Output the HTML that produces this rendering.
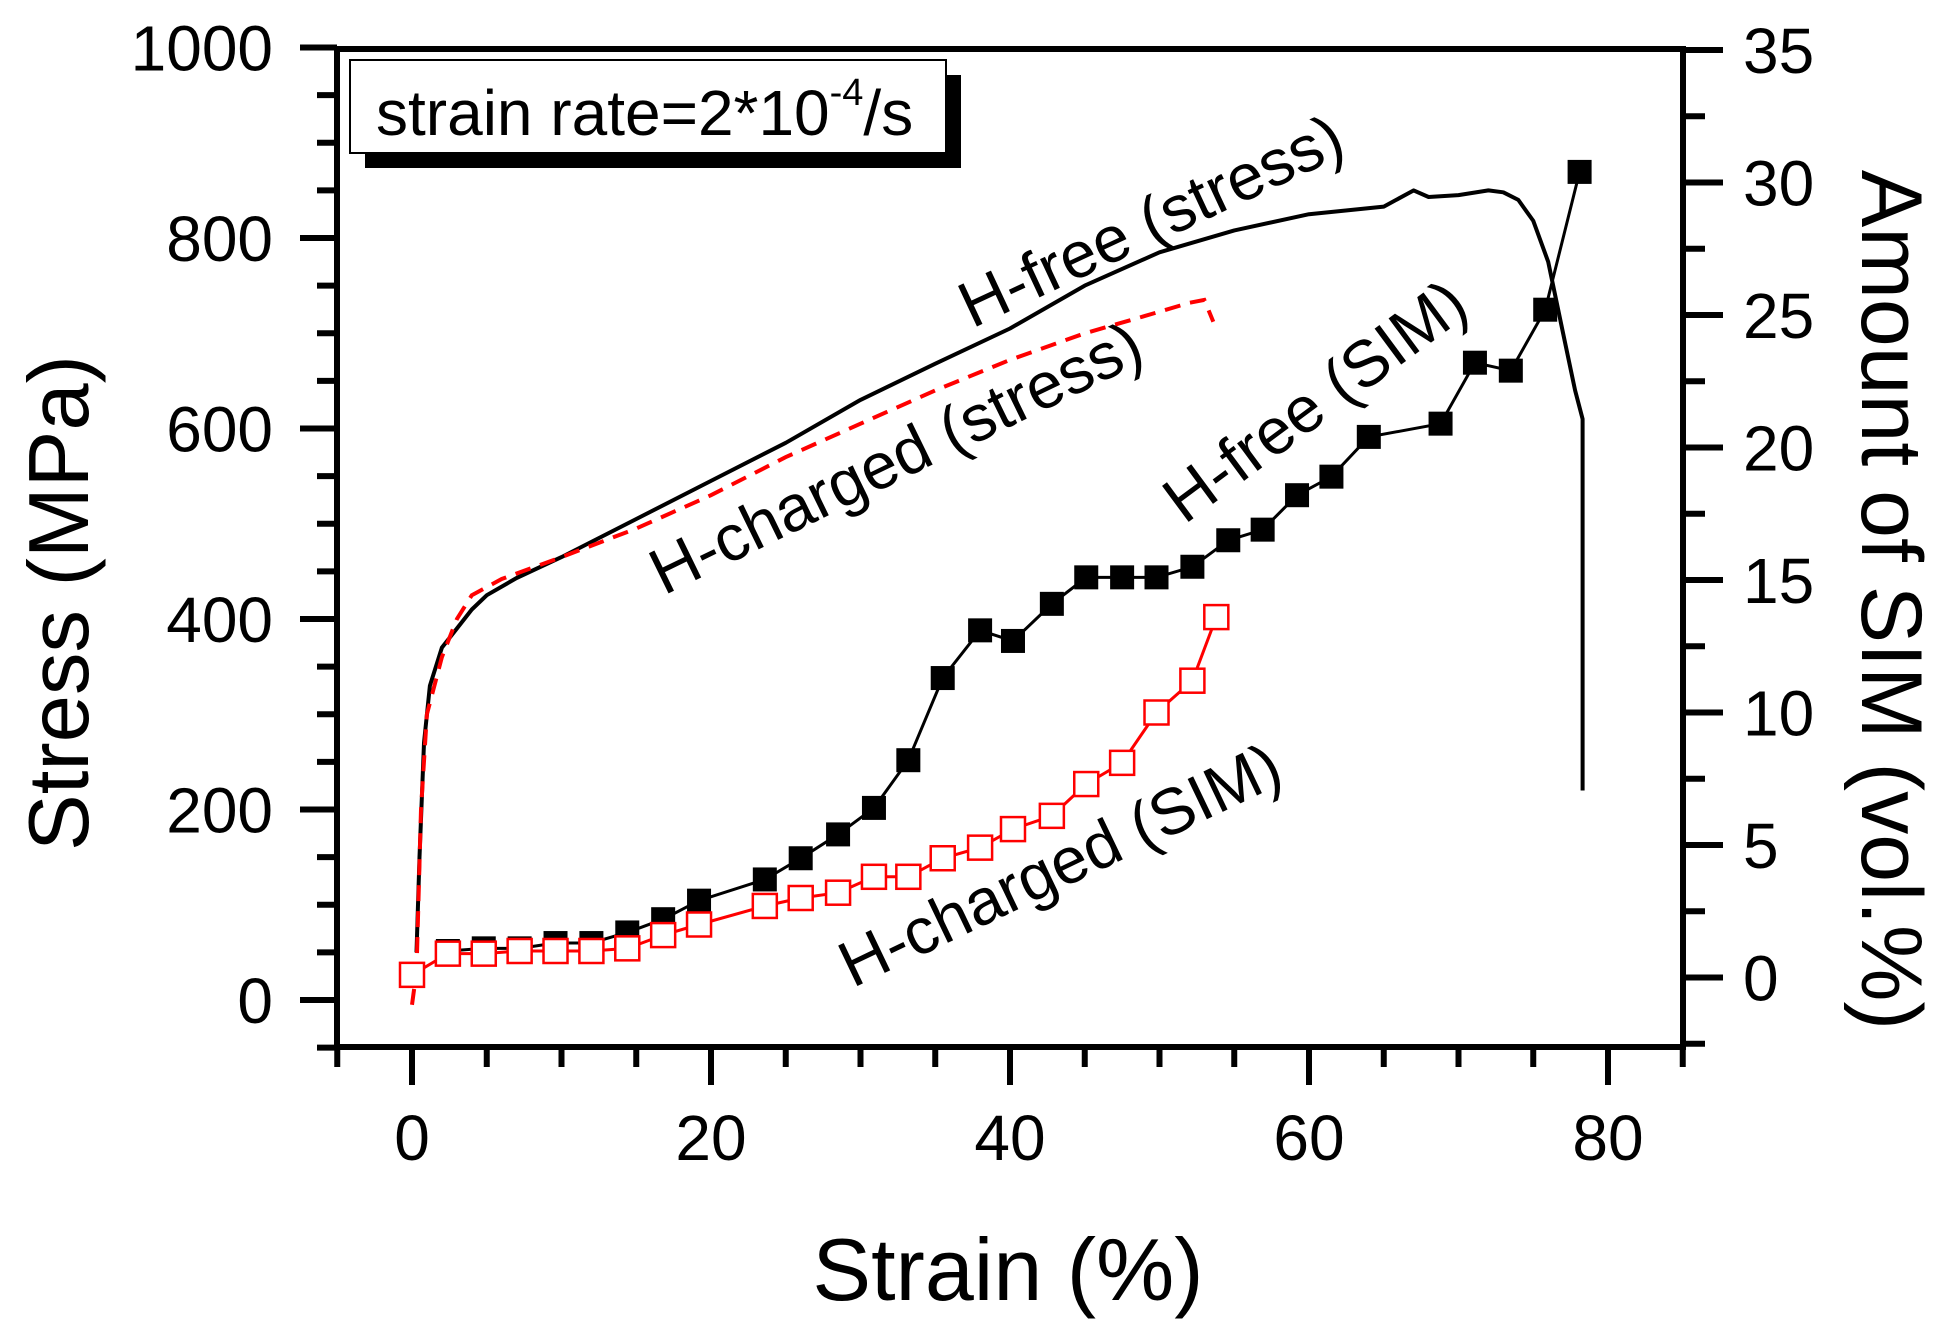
<!DOCTYPE html>
<html><head><meta charset="utf-8"><style>
html,body{margin:0;padding:0;background:#fff;}
svg{display:block;font-family:"Liberation Sans",Arial,sans-serif;}
</style></head><body>
<svg id="chart" width="1951" height="1331" viewBox="0 0 1951 1331" xmlns="http://www.w3.org/2000/svg">
<rect width="1951" height="1331" fill="#fff"/>
<g id="axes"></g>
<g id="series"></g>
<g id="labels"></g>
</svg>
<script>
// ---- data ----
const freeStressStrain = [0.3,0.5,0.8,1.2,2,3,4,5,7,10,15,20,25,30,35,40,45,50,55,60,65,67,68,70,72,73,74,75,76,77,77.8,78.3,78.3];
const freeStressValues = [50,150,270,330,370,390,410,425,443,465,505,545,585,630,668,705,750,785,808,825,833,850,843,845,850,848,840,818,775,700,640,610,220];
const chargedStressStrain = [0,0.3,0.6,1,2,3,4,6,10,15,20,25,30,35,40,45,49,52,53,53.6];
const chargedStressValues = [-5,30,200,300,360,400,425,442,465,495,530,570,605,640,672,700,718,732,735,712];
const freeSimStrain = [2.4,4.8,7.2,9.6,12,14.4,16.8,19.2,23.6,26,28.5,30.9,33.2,35.5,38,40.2,42.8,45.1,47.5,49.8,52.2,54.6,56.9,59.2,61.5,64,68.8,71.1,73.5,75.8,78.1];
const freeSimValues = [1.0,1.1,1.1,1.3,1.3,1.7,2.2,2.9,3.7,4.5,5.4,6.4,8.2,11.3,13.1,12.7,14.1,15.1,15.1,15.1,15.5,16.5,16.9,18.2,18.9,20.4,20.9,23.2,22.9,25.2,30.4];
const chargedSimStrain = [0,2.4,4.8,7.2,9.6,12,14.4,16.8,19.2,23.6,26,28.5,30.9,33.2,35.5,38,40.2,42.8,45.1,47.5,49.8,52.2,53.8];
const chargedSimValues = [0.1,0.9,0.9,1.0,1.0,1.0,1.1,1.6,2.0,2.7,3.0,3.2,3.8,3.8,4.5,4.9,5.6,6.1,7.3,8.1,10.0,11.2,13.6];
const xTickLabels = ["0","20","40","60","80"];
const yTickLabels = ["0","200","400","600","800","1000"];
const y2TickLabels = ["0","5","10","15","20","25","30","35"];

// ---- scales ----
const X0=412, XK=14.95;
const sx = v => X0 + v*XK;
const sy = v => 1000 - v*0.9525;
const sy2 = v => 977.5 - v*26.5;
const L=337, R=1683, T=49, B=1047;
const NS="http://www.w3.org/2000/svg";
function mk(tag, attrs, parent){const e=document.createElementNS(NS,tag);for(const k in attrs)e.setAttribute(k,attrs[k]);parent.appendChild(e);return e;}
const axes=document.getElementById('axes'), ser=document.getElementById('series'), lab=document.getElementById('labels');

let fr=mk('rect',{x:L,y:T,width:R-L,height:B-T,fill:'none',stroke:'#000','stroke-width':6},axes);



for(let v=-5; v<=85; v+=5){
  const major = v%20===0;
  const t=mk('line',{x1:sx(v),x2:sx(v),y1:B,y2:B+(major?38:20),stroke:'#000','stroke-width':6},axes);
  
  
}
xTickLabels.forEach(s=>{
  const t=mk('text',{x:sx(+s),y:1160,'font-size':64,'text-anchor':'middle'},lab);t.textContent=s;
  
  
});
for(let v=-50; v<=1000; v+=50){
  const major=v%200===0;
  const t=mk('line',{x1:L-(major?37:20),x2:L,y1:sy(v),y2:sy(v),stroke:'#000','stroke-width':6},axes);
  
  
}
yTickLabels.forEach(s=>{
  const t=mk('text',{x:273,y:sy(+s)+23,'font-size':64,'text-anchor':'end'},lab);t.textContent=s;
  
  
});
for(let v=-2.5; v<=35; v+=2.5){
  const major=v%5===0;
  const t=mk('line',{x1:R,x2:R+(major?40:22),y1:sy2(v),y2:sy2(v),stroke:'#000','stroke-width':6},axes);
  
  
}
y2TickLabels.forEach(s=>{
  const t=mk('text',{x:1743,y:sy2(+s)+23,'font-size':64,'text-anchor':'start'},lab);t.textContent=s;
  
  
});

function path(xs,ys,f){return xs.map((x,i)=>(i?'L':'M')+sx(x).toFixed(1)+' '+f(ys[i]).toFixed(1)).join(' ');}
let p=mk('path',{d:path(freeStressStrain,freeStressValues,sy),fill:'none',stroke:'#000','stroke-width':4,'stroke-linejoin':'round'},ser);


p=mk('path',{d:path(chargedStressStrain,chargedStressValues,sy),fill:'none',stroke:'#ff0000','stroke-width':4,'stroke-dasharray':'16,10'},ser);


p=mk('path',{d:path(chargedSimStrain,chargedSimValues,sy2),fill:'none',stroke:'#ff0000','stroke-width':3},ser);


p=mk('path',{d:path(freeSimStrain,freeSimValues,sy2),fill:'none',stroke:'#000','stroke-width':3},ser);


const M=24;
freeSimStrain.forEach((x,i)=>{
  const r=mk('rect',{x:sx(x)-M/2,y:sy2(freeSimValues[i])-M/2,width:M,height:M,fill:'#000'},ser);
  
  
});
chargedSimStrain.forEach((x,i)=>{
  const r=mk('rect',{x:sx(x)-M/2,y:sy2(chargedSimValues[i])-M/2,width:M,height:M,fill:'#fff',stroke:'#ff0000','stroke-width':2.5},ser);
  
  
});

[["H-free (stress)",1151,221,-25],["H-charged (stress)",896,458,-26],["H-free (SIM)",1315,401,-36.5],["H-charged (SIM)",1060,865,-25.5]].forEach(a=>{
  const t=mk('text',{x:a[1],y:a[2]+22,'font-size':65,'text-anchor':'middle',transform:`rotate(${a[3]} ${a[1]} ${a[2]})`},lab);
  t.textContent=a[0];
  
  
});
</script>
<svg style="position:absolute;left:0;top:0" width="1951" height="1331" viewBox="0 0 1951 1331" xmlns="http://www.w3.org/2000/svg" font-family="Liberation Sans, Arial, sans-serif">
<g>
<rect x="365" y="75" width="596" height="93" fill="#000"/>
<rect x="350" y="60" width="596" height="93" fill="#fff" stroke="#000" stroke-width="2"/>
<text x="376" y="135" font-size="64">strain rate=2*10<tspan font-size="38" dy="-30">-4</tspan><tspan dy="30">/s</tspan></text>
</g>
<text x="0" y="0" font-size="85" text-anchor="middle" transform="translate(88 603) rotate(-90)">Stress (MPa)</text>
<text x="0" y="0" font-size="86" text-anchor="middle" transform="translate(1862 600) rotate(90)">Amount of SIM (vol.%)</text>
<text x="1008" y="1300" font-size="88" text-anchor="middle">Strain (%)</text>
</svg>
</body></html>
